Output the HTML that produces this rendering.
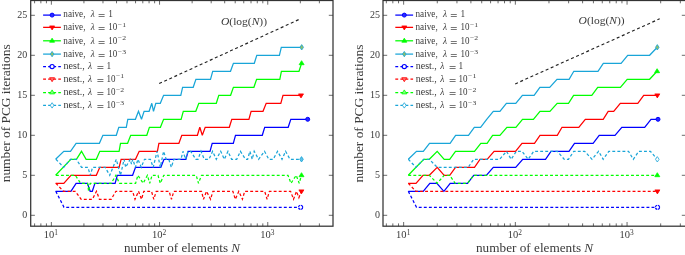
<!DOCTYPE html>
<html><head><meta charset="utf-8"><style>
html,body{margin:0;padding:0;background:#fff;}
body{width:685px;height:255px;overflow:hidden;}
svg{display:block;}
text{font-family:"Liberation Serif",serif;fill:#3a3a3a;}
svg{will-change:transform;}
</style></head><body>
<svg width="685" height="255" viewBox="0 0 685 255">
<path d="M34.60,226.2v-2.8M34.60,0.5v2.8M40.87,226.2v-2.8M40.87,0.5v2.8M46.41,226.2v-2.8M46.41,0.5v2.8M51.36,226.2v-4.2M51.36,0.5v4.2M83.93,226.2v-2.8M83.93,0.5v2.8M102.98,226.2v-2.8M102.98,0.5v2.8M116.50,226.2v-2.8M116.50,0.5v2.8M126.99,226.2v-2.8M126.99,0.5v2.8M135.56,226.2v-2.8M135.56,0.5v2.8M142.80,226.2v-2.8M142.80,0.5v2.8M149.07,226.2v-2.8M149.07,0.5v2.8M154.61,226.2v-2.8M154.61,0.5v2.8M159.56,226.2v-4.2M159.56,0.5v4.2M192.13,226.2v-2.8M192.13,0.5v2.8M211.18,226.2v-2.8M211.18,0.5v2.8M224.70,226.2v-2.8M224.70,0.5v2.8M235.19,226.2v-2.8M235.19,0.5v2.8M243.76,226.2v-2.8M243.76,0.5v2.8M251.00,226.2v-2.8M251.00,0.5v2.8M257.27,226.2v-2.8M257.27,0.5v2.8M262.81,226.2v-2.8M262.81,0.5v2.8M267.76,226.2v-4.2M267.76,0.5v4.2M300.33,226.2v-2.8M300.33,0.5v2.8M319.38,226.2v-2.8M319.38,0.5v2.8M30.7,215.30h4.2M333.0,215.30h-4.2M30.7,175.30h4.2M333.0,175.30h-4.2M30.7,135.30h4.2M333.0,135.30h-4.2M30.7,95.30h4.2M333.0,95.30h-4.2M30.7,55.30h4.2M333.0,55.30h-4.2M30.7,15.30h4.2M333.0,15.30h-4.2" stroke="#3a3a3a" stroke-width="0.75" fill="none"/>
<rect x="30.7" y="0.5" width="302.3" height="225.7" fill="none" stroke="#333" stroke-width="1.25"/>
<polyline points="55.60,191.30 70.90,191.30 76.10,183.30 87.40,183.30 90.20,191.30 92.30,191.30 94.90,183.30 115.10,183.30 117.30,175.30 132.60,175.30 135.50,167.30 160.80,167.30 164.00,159.30 185.90,159.30 188.10,151.30 210.00,151.30 212.20,143.30 233.30,143.30 235.50,135.30 262.30,135.30 264.70,127.30 288.20,127.30 290.80,119.30 307.70,119.30" fill="none" stroke="#0000ff" stroke-width="1.25" stroke-linejoin="miter" stroke-miterlimit="3"/>
<polyline points="55.60,183.30 63.80,183.30 70.90,175.30 96.30,175.30 99.80,167.30 119.10,167.30 121.10,159.30 135.50,159.30 139.20,151.30 157.40,151.30 158.90,143.30 178.90,143.30 181.80,135.30 197.40,135.30 199.80,127.30 202.30,135.30 205.20,127.30 229.30,127.30 231.80,119.30 248.90,119.30 251.10,111.30 263.00,111.30 266.20,103.30 280.80,103.30 283.00,95.30 301.00,95.30" fill="none" stroke="#ff0000" stroke-width="1.25" stroke-linejoin="miter" stroke-miterlimit="3"/>
<polyline points="55.60,175.30 70.80,159.30 76.40,159.30 81.50,151.30 86.10,159.30 96.30,159.30 99.80,151.30 119.10,151.30 120.50,143.30 127.60,143.30 130.70,135.30 146.80,135.30 149.40,127.30 160.40,127.30 163.60,119.30 181.10,119.30 183.30,111.30 195.80,111.30 198.80,103.30 216.30,103.30 218.80,95.30 230.60,95.30 233.40,87.30 253.90,87.30 256.60,79.30 279.80,79.30 281.40,71.30 299.00,71.30 301.60,63.30" fill="none" stroke="#00ff00" stroke-width="1.25" stroke-linejoin="miter" stroke-miterlimit="3"/>
<polyline points="55.60,159.30 63.80,151.30 70.50,151.30 76.10,143.30 99.40,143.30 102.90,135.30 116.30,135.30 118.80,127.30 126.30,127.30 127.80,119.30 135.40,119.30 138.50,111.30 141.50,119.30 144.10,111.30 149.10,111.30 151.80,103.30 153.50,111.30 155.80,103.30 160.30,103.30 163.60,95.30 180.80,95.30 182.60,87.30 193.20,87.30 195.90,79.30 210.50,79.30 212.70,71.30 230.50,71.30 233.40,63.30 254.30,63.30 256.80,55.30 279.40,55.30 281.30,47.30 301.70,47.30" fill="none" stroke="#19a5d8" stroke-width="1.25" stroke-linejoin="miter" stroke-miterlimit="3"/>
<polyline points="55.80,191.30 64.00,207.30 300.60,207.30" fill="none" stroke="#0000ff" stroke-width="1.25" stroke-linejoin="miter" stroke-miterlimit="3" stroke-dasharray="2.9 2.16"/>
<polyline points="55.90,183.30 63.50,191.30 75.30,191.30 81.20,199.30 92.40,199.30 96.50,191.30 99.40,199.30 111.20,199.30 115.90,191.30 132.60,191.30 135.00,199.30 138.50,191.30 141.50,199.30 143.80,191.30 151.50,191.30 153.80,199.30 156.20,191.30 169.10,191.30 171.50,199.30 173.80,191.30 201.50,191.30 203.50,199.30 206.50,191.30 210.60,199.30 212.90,191.30 232.90,191.30 235.30,199.30 238.80,191.30 242.40,199.30 244.70,191.30 264.70,191.30 267.10,199.30 269.40,191.30 290.60,191.30 293.50,199.30 296.50,191.30 298.90,197.70 301.40,191.30" fill="none" stroke="#ff0000" stroke-width="1.25" stroke-linejoin="miter" stroke-miterlimit="3" stroke-dasharray="2.9 2.16"/>
<polyline points="55.90,175.30 75.30,175.30 80.60,183.30 87.60,183.30 88.60,191.30 90.20,183.30 111.20,183.30 115.90,175.30 119.40,183.30 135.60,183.30 137.90,175.30 143.20,183.30 147.40,175.30 149.70,183.30 152.10,175.30 158.00,175.30 160.30,183.30 163.80,175.30 196.20,175.30 198.50,183.30 201.50,175.30 288.00,175.30 291.00,183.30 296.20,175.30 299.20,183.30 301.50,175.30" fill="none" stroke="#00ff00" stroke-width="1.25" stroke-linejoin="miter" stroke-miterlimit="3" stroke-dasharray="2.9 2.16"/>
<polyline points="55.90,159.30 63.70,167.30 70.50,159.30 76.30,159.30 81.50,167.30 87.90,167.30 90.30,175.30 92.60,167.30 105.10,167.30 109.70,175.30 116.30,159.30 120.50,175.30 124.10,159.30 125.70,167.30 130.20,159.30 131.50,164.10 132.80,159.30 135.40,167.30 138.00,159.30 141.20,167.30 144.50,159.30 150.40,159.30 153.20,167.30 157.10,151.30 160.30,167.30 163.60,151.30 166.20,159.30 168.80,159.30 171.30,167.30 173.90,159.30 181.00,159.30 183.00,151.30 185.60,159.30 188.00,151.30 190.70,151.30 195.80,159.30 198.00,159.30 201.00,151.30 204.30,159.30 209.00,159.30 212.60,151.30 216.30,159.30 220.70,151.30 224.30,159.30 228.00,151.30 231.60,159.30 236.70,159.30 240.40,151.30 245.50,159.30 247.60,159.30 249.90,151.30 252.20,159.30 254.20,151.30 258.60,159.30 264.50,151.30 268.80,159.30 273.20,159.30 277.60,151.30 282.00,159.30 285.60,151.30 290.00,159.30 301.50,159.30" fill="none" stroke="#19a5d8" stroke-width="1.25" stroke-linejoin="miter" stroke-miterlimit="3" stroke-dasharray="2.9 2.16"/>
<circle cx="307.70" cy="119.30" r="2.0" fill="#2a2aff" stroke="#0000ff" stroke-width="1"/>
<circle cx="300.60" cy="207.30" r="2.1" fill="white" stroke="#0000ff" stroke-width="1.2" stroke-dasharray="2.4 0.7"/>
<polygon points="298.50,93.90 303.50,93.90 301.00,97.90" fill="#ff0000" stroke="#ff0000" stroke-width="0.8"/>
<polygon points="298.90,189.90 303.90,189.90 301.40,193.90" fill="#ff0000" stroke="#ff0000" stroke-width="0.8"/>
<polygon points="299.10,64.70 304.10,64.70 301.60,60.70" fill="#00ff00" stroke="#00ff00" stroke-width="0.8"/>
<polygon points="299.00,176.70 304.00,176.70 301.50,172.70" fill="#00ff00" stroke="#00ff00" stroke-width="0.8"/>
<polygon points="301.70,44.60 303.50,47.30 301.70,50.00 299.90,47.30" fill="#8fbf6a" stroke="#19a5d8" stroke-width="0.8"/>
<polygon points="301.50,156.60 303.30,159.30 301.50,162.00 299.70,159.30" fill="#5fc0e6" stroke="#19a5d8" stroke-width="0.8"/>
<path d="M386.35,226.2v-2.8M386.35,0.5v2.8M392.83,226.2v-2.8M392.83,0.5v2.8M398.54,226.2v-2.8M398.54,0.5v2.8M403.65,226.2v-4.2M403.65,0.5v4.2M437.28,226.2v-2.8M437.28,0.5v2.8M456.94,226.2v-2.8M456.94,0.5v2.8M470.90,226.2v-2.8M470.90,0.5v2.8M481.72,226.2v-2.8M481.72,0.5v2.8M490.57,226.2v-2.8M490.57,0.5v2.8M498.05,226.2v-2.8M498.05,0.5v2.8M504.53,226.2v-2.8M504.53,0.5v2.8M510.24,226.2v-2.8M510.24,0.5v2.8M515.35,226.2v-4.2M515.35,0.5v4.2M548.98,226.2v-2.8M548.98,0.5v2.8M568.64,226.2v-2.8M568.64,0.5v2.8M582.60,226.2v-2.8M582.60,0.5v2.8M593.42,226.2v-2.8M593.42,0.5v2.8M602.27,226.2v-2.8M602.27,0.5v2.8M609.75,226.2v-2.8M609.75,0.5v2.8M616.23,226.2v-2.8M616.23,0.5v2.8M621.94,226.2v-2.8M621.94,0.5v2.8M627.05,226.2v-4.2M627.05,0.5v4.2M660.68,226.2v-2.8M660.68,0.5v2.8M680.34,226.2v-2.8M680.34,0.5v2.8M383.0,215.30h4.2M686.0,215.30h-4.2M383.0,175.30h4.2M686.0,175.30h-4.2M383.0,135.30h4.2M686.0,135.30h-4.2M383.0,95.30h4.2M686.0,95.30h-4.2M383.0,55.30h4.2M686.0,55.30h-4.2M383.0,15.30h4.2M686.0,15.30h-4.2" stroke="#3a3a3a" stroke-width="0.75" fill="none"/>
<rect x="383.0" y="0.5" width="303.0" height="225.7" fill="none" stroke="#333" stroke-width="1.25"/>
<polyline points="408.30,191.30 423.20,191.30 429.80,183.30 436.90,183.30 443.90,191.30 450.20,183.30 467.50,183.30 473.70,175.30 486.30,175.30 493.30,167.30 515.70,167.30 522.70,159.30 545.50,159.30 551.00,151.30 569.00,151.30 574.50,143.30 593.10,143.30 599.20,135.30 615.00,135.30 621.80,127.30 644.70,127.30 651.00,119.30 658.00,119.30" fill="none" stroke="#0000ff" stroke-width="1.25" stroke-linejoin="miter" stroke-miterlimit="3"/>
<polyline points="408.30,183.30 416.00,183.30 423.00,175.30 429.30,175.30 437.20,167.30 444.20,175.30 449.70,175.30 455.50,167.30 474.50,167.30 480.00,159.30 487.10,159.30 494.10,151.30 515.50,151.30 522.00,143.30 534.50,143.30 540.00,135.30 557.30,135.30 562.00,127.30 578.80,127.30 585.30,119.30 603.20,119.30 608.20,111.30 613.70,111.30 620.30,103.30 637.80,103.30 643.70,95.30 657.30,95.30" fill="none" stroke="#ff0000" stroke-width="1.25" stroke-linejoin="miter" stroke-miterlimit="3"/>
<polyline points="408.30,175.30 416.00,167.30 423.80,159.30 429.30,159.30 437.20,151.30 444.20,159.30 449.70,159.30 455.50,151.30 474.50,151.30 480.80,143.30 487.10,143.30 492.60,135.30 499.90,135.30 506.90,127.30 515.90,127.30 522.50,119.30 533.40,119.30 540.00,111.30 549.90,111.30 557.20,103.30 568.50,103.30 573.60,95.30 591.80,95.30 597.70,87.30 620.40,87.30 627.20,79.30 649.60,79.30 657.10,71.30" fill="none" stroke="#00ff00" stroke-width="1.25" stroke-linejoin="miter" stroke-miterlimit="3"/>
<polyline points="408.30,159.30 416.50,151.30 423.30,151.30 429.50,143.30 450.10,143.30 455.60,135.30 468.50,135.30 474.30,127.30 480.60,127.30 486.70,119.30 493.30,111.30 499.90,111.30 506.40,103.30 515.80,103.30 522.40,95.30 534.10,95.30 539.90,87.30 549.70,87.30 557.00,79.30 569.10,79.30 573.80,71.30 598.00,71.30 603.30,63.30 621.10,63.30 627.70,55.30 649.60,55.30 657.30,47.30" fill="none" stroke="#19a5d8" stroke-width="1.25" stroke-linejoin="miter" stroke-miterlimit="3"/>
<polyline points="408.30,191.30 416.50,207.30 657.50,207.30" fill="none" stroke="#0000ff" stroke-width="1.25" stroke-linejoin="miter" stroke-miterlimit="3" stroke-dasharray="2.9 2.16"/>
<polyline points="408.30,183.30 415.90,191.30 657.40,191.30" fill="none" stroke="#ff0000" stroke-width="1.25" stroke-linejoin="miter" stroke-miterlimit="3" stroke-dasharray="2.9 2.16"/>
<polyline points="408.30,175.30 429.30,175.30 437.20,183.30 444.20,175.30 449.70,175.30 455.20,183.30 467.50,183.30 473.70,175.30 657.30,175.30" fill="none" stroke="#00ff00" stroke-width="1.25" stroke-linejoin="miter" stroke-miterlimit="3" stroke-dasharray="2.9 2.16"/>
<polyline points="408.30,159.30 416.00,167.30 423.80,159.30 429.30,159.30 437.20,167.30 468.20,167.30 473.70,159.30 499.60,159.30 506.50,151.30 511.20,159.30 516.30,151.30 522.00,151.30 528.20,159.30 533.70,151.30 557.30,151.30 564.30,159.30 568.50,159.30 573.80,151.30 584.70,151.30 592.00,159.30 598.60,151.30 603.20,159.30 608.80,151.30 628.50,151.30 633.30,159.30 638.70,151.30 650.40,151.30 657.30,159.30" fill="none" stroke="#19a5d8" stroke-width="1.25" stroke-linejoin="miter" stroke-miterlimit="3" stroke-dasharray="2.9 2.16"/>
<circle cx="658.00" cy="119.30" r="2.0" fill="#2a2aff" stroke="#0000ff" stroke-width="1"/>
<circle cx="657.50" cy="207.30" r="2.1" fill="white" stroke="#0000ff" stroke-width="1.2" stroke-dasharray="2.4 0.7"/>
<polygon points="654.80,93.90 659.80,93.90 657.30,97.90" fill="#ff0000" stroke="#ff0000" stroke-width="0.8"/>
<polygon points="654.90,189.90 659.90,189.90 657.40,193.90" fill="#ff0000" stroke="#ff0000" stroke-width="0.8"/>
<polygon points="654.60,72.70 659.60,72.70 657.10,68.70" fill="#00ff00" stroke="#00ff00" stroke-width="0.8"/>
<polygon points="654.80,176.70 659.80,176.70 657.30,172.70" fill="#00ff00" stroke="#00ff00" stroke-width="0.8"/>
<polygon points="657.30,44.60 659.10,47.30 657.30,50.00 655.50,47.30" fill="#8fbf6a" stroke="#19a5d8" stroke-width="0.8"/>
<polygon points="657.30,156.60 659.10,159.30 657.30,162.00 655.50,159.30" fill="white" stroke="#19a5d8" stroke-width="0.8"/>
<line x1="43.1" y1="15.1" x2="60.9" y2="15.1" stroke="#0000ff" stroke-width="1.25"/>
<circle cx="52.10" cy="15.10" r="2.0" fill="#2a2aff" stroke="#0000ff" stroke-width="1"/>
<text x="63.30" y="16.70" font-size="9.3" textLength="22.2" lengthAdjust="spacingAndGlyphs">naive,</text>
<text x="90.80" y="16.70" font-size="9.3" font-style="italic">λ</text>
<path d="M98.60,14.50h6.0M98.60,16.50h6.0" stroke="#555" stroke-width="0.8"/>
<text x="108.30" y="16.70" font-size="9.3">1</text>
<line x1="43.1" y1="27.35" x2="60.9" y2="27.35" stroke="#ff0000" stroke-width="1.25"/>
<polygon points="49.60,25.95 54.60,25.95 52.10,29.95" fill="#ff0000" stroke="#ff0000" stroke-width="0.8"/>
<text x="63.30" y="30.40" font-size="9.3" textLength="22.2" lengthAdjust="spacingAndGlyphs">naive,</text>
<text x="90.80" y="30.40" font-size="9.3" font-style="italic">λ</text>
<path d="M98.60,27.50h6.0M98.60,29.50h6.0" stroke="#555" stroke-width="0.8"/>
<text x="108.30" y="30.40" font-size="9.3" textLength="9.0" lengthAdjust="spacingAndGlyphs">10</text>
<text x="117.80" y="27.00" font-size="6.3" textLength="8.2" lengthAdjust="spacingAndGlyphs">−1</text>
<line x1="43.1" y1="40.8" x2="60.9" y2="40.8" stroke="#00ff00" stroke-width="1.25"/>
<polygon points="49.60,42.20 54.60,42.20 52.10,38.20" fill="#00ff00" stroke="#00ff00" stroke-width="0.8"/>
<text x="63.30" y="43.80" font-size="9.3" textLength="22.2" lengthAdjust="spacingAndGlyphs">naive,</text>
<text x="90.80" y="43.80" font-size="9.3" font-style="italic">λ</text>
<path d="M98.60,41.50h6.0M98.60,43.50h6.0" stroke="#555" stroke-width="0.8"/>
<text x="108.30" y="43.80" font-size="9.3" textLength="9.0" lengthAdjust="spacingAndGlyphs">10</text>
<text x="117.80" y="40.40" font-size="6.3" textLength="8.2" lengthAdjust="spacingAndGlyphs">−2</text>
<line x1="43.1" y1="54.1" x2="60.9" y2="54.1" stroke="#19a5d8" stroke-width="1.25"/>
<polygon points="52.10,51.40 53.90,54.10 52.10,56.80 50.30,54.10" fill="#8fbf6a" stroke="#19a5d8" stroke-width="0.8"/>
<text x="63.30" y="57.10" font-size="9.3" textLength="22.2" lengthAdjust="spacingAndGlyphs">naive,</text>
<text x="90.80" y="57.10" font-size="9.3" font-style="italic">λ</text>
<path d="M98.60,54.50h6.0M98.60,56.50h6.0" stroke="#555" stroke-width="0.8"/>
<text x="108.30" y="57.10" font-size="9.3" textLength="9.0" lengthAdjust="spacingAndGlyphs">10</text>
<text x="117.80" y="53.70" font-size="6.3" textLength="8.2" lengthAdjust="spacingAndGlyphs">−3</text>
<line x1="43.1" y1="66.6" x2="60.9" y2="66.6" stroke="#0000ff" stroke-width="1.25" stroke-dasharray="2.9 2.16"/>
<circle cx="52.10" cy="66.60" r="2.1" fill="white" stroke="#0000ff" stroke-width="1.2"/>
<text x="63.50" y="68.60" font-size="9.3" textLength="21.2" lengthAdjust="spacingAndGlyphs">nest.,</text>
<text x="88.00" y="68.60" font-size="9.3" font-style="italic">λ</text>
<path d="M97.40,66.50h6.0M97.40,68.50h6.0" stroke="#555" stroke-width="0.8"/>
<text x="106.40" y="68.60" font-size="9.3">1</text>
<line x1="43.1" y1="79.1" x2="60.9" y2="79.1" stroke="#ff0000" stroke-width="1.25" stroke-dasharray="2.9 2.16"/>
<polygon points="49.60,77.70 54.60,77.70 52.10,81.70" fill="#ff7070" stroke="#ff0000" stroke-width="0.8"/>
<text x="63.50" y="81.80" font-size="9.3" textLength="21.2" lengthAdjust="spacingAndGlyphs">nest.,</text>
<text x="88.00" y="81.80" font-size="9.3" font-style="italic">λ</text>
<path d="M97.40,79.50h6.0M97.40,81.50h6.0" stroke="#555" stroke-width="0.8"/>
<text x="106.40" y="81.80" font-size="9.3" textLength="9.0" lengthAdjust="spacingAndGlyphs">10</text>
<text x="115.90" y="78.40" font-size="6.3" textLength="8.2" lengthAdjust="spacingAndGlyphs">−1</text>
<line x1="43.1" y1="92.5" x2="60.9" y2="92.5" stroke="#00ff00" stroke-width="1.25" stroke-dasharray="2.9 2.16"/>
<polygon points="49.60,93.90 54.60,93.90 52.10,89.90" fill="#80ff80" stroke="#00ff00" stroke-width="0.8"/>
<text x="63.50" y="95.20" font-size="9.3" textLength="21.2" lengthAdjust="spacingAndGlyphs">nest.,</text>
<text x="88.00" y="95.20" font-size="9.3" font-style="italic">λ</text>
<path d="M97.40,92.50h6.0M97.40,94.50h6.0" stroke="#555" stroke-width="0.8"/>
<text x="106.40" y="95.20" font-size="9.3" textLength="9.0" lengthAdjust="spacingAndGlyphs">10</text>
<text x="115.90" y="91.80" font-size="6.3" textLength="8.2" lengthAdjust="spacingAndGlyphs">−2</text>
<line x1="43.1" y1="105.4" x2="60.9" y2="105.4" stroke="#19a5d8" stroke-width="1.25" stroke-dasharray="2.9 2.16"/>
<polygon points="52.10,102.70 53.90,105.40 52.10,108.10 50.30,105.40" fill="white" stroke="#19a5d8" stroke-width="0.8"/>
<text x="63.50" y="108.20" font-size="9.3" textLength="21.2" lengthAdjust="spacingAndGlyphs">nest.,</text>
<text x="88.00" y="108.20" font-size="9.3" font-style="italic">λ</text>
<path d="M97.40,105.50h6.0M97.40,107.50h6.0" stroke="#555" stroke-width="0.8"/>
<text x="106.40" y="108.20" font-size="9.3" textLength="9.0" lengthAdjust="spacingAndGlyphs">10</text>
<text x="115.90" y="104.80" font-size="6.3" textLength="8.2" lengthAdjust="spacingAndGlyphs">−3</text>
<line x1="395.3" y1="15.1" x2="413.09999999999997" y2="15.1" stroke="#0000ff" stroke-width="1.25"/>
<circle cx="404.30" cy="15.10" r="2.0" fill="#2a2aff" stroke="#0000ff" stroke-width="1"/>
<text x="415.50" y="16.70" font-size="9.3" textLength="22.2" lengthAdjust="spacingAndGlyphs">naive,</text>
<text x="443.00" y="16.70" font-size="9.3" font-style="italic">λ</text>
<path d="M450.80,14.50h6.0M450.80,16.50h6.0" stroke="#555" stroke-width="0.8"/>
<text x="460.50" y="16.70" font-size="9.3">1</text>
<line x1="395.3" y1="27.35" x2="413.09999999999997" y2="27.35" stroke="#ff0000" stroke-width="1.25"/>
<polygon points="401.80,25.95 406.80,25.95 404.30,29.95" fill="#ff0000" stroke="#ff0000" stroke-width="0.8"/>
<text x="415.50" y="30.40" font-size="9.3" textLength="22.2" lengthAdjust="spacingAndGlyphs">naive,</text>
<text x="443.00" y="30.40" font-size="9.3" font-style="italic">λ</text>
<path d="M450.80,27.50h6.0M450.80,29.50h6.0" stroke="#555" stroke-width="0.8"/>
<text x="460.50" y="30.40" font-size="9.3" textLength="9.0" lengthAdjust="spacingAndGlyphs">10</text>
<text x="470.00" y="27.00" font-size="6.3" textLength="8.2" lengthAdjust="spacingAndGlyphs">−1</text>
<line x1="395.3" y1="40.8" x2="413.09999999999997" y2="40.8" stroke="#00ff00" stroke-width="1.25"/>
<polygon points="401.80,42.20 406.80,42.20 404.30,38.20" fill="#00ff00" stroke="#00ff00" stroke-width="0.8"/>
<text x="415.50" y="43.80" font-size="9.3" textLength="22.2" lengthAdjust="spacingAndGlyphs">naive,</text>
<text x="443.00" y="43.80" font-size="9.3" font-style="italic">λ</text>
<path d="M450.80,41.50h6.0M450.80,43.50h6.0" stroke="#555" stroke-width="0.8"/>
<text x="460.50" y="43.80" font-size="9.3" textLength="9.0" lengthAdjust="spacingAndGlyphs">10</text>
<text x="470.00" y="40.40" font-size="6.3" textLength="8.2" lengthAdjust="spacingAndGlyphs">−2</text>
<line x1="395.3" y1="54.1" x2="413.09999999999997" y2="54.1" stroke="#19a5d8" stroke-width="1.25"/>
<polygon points="404.30,51.40 406.10,54.10 404.30,56.80 402.50,54.10" fill="#8fbf6a" stroke="#19a5d8" stroke-width="0.8"/>
<text x="415.50" y="57.10" font-size="9.3" textLength="22.2" lengthAdjust="spacingAndGlyphs">naive,</text>
<text x="443.00" y="57.10" font-size="9.3" font-style="italic">λ</text>
<path d="M450.80,54.50h6.0M450.80,56.50h6.0" stroke="#555" stroke-width="0.8"/>
<text x="460.50" y="57.10" font-size="9.3" textLength="9.0" lengthAdjust="spacingAndGlyphs">10</text>
<text x="470.00" y="53.70" font-size="6.3" textLength="8.2" lengthAdjust="spacingAndGlyphs">−3</text>
<line x1="395.3" y1="66.6" x2="413.09999999999997" y2="66.6" stroke="#0000ff" stroke-width="1.25" stroke-dasharray="2.9 2.16"/>
<circle cx="404.30" cy="66.60" r="2.1" fill="white" stroke="#0000ff" stroke-width="1.2"/>
<text x="415.70" y="68.60" font-size="9.3" textLength="21.2" lengthAdjust="spacingAndGlyphs">nest.,</text>
<text x="440.20" y="68.60" font-size="9.3" font-style="italic">λ</text>
<path d="M449.60,66.50h6.0M449.60,68.50h6.0" stroke="#555" stroke-width="0.8"/>
<text x="458.60" y="68.60" font-size="9.3">1</text>
<line x1="395.3" y1="79.1" x2="413.09999999999997" y2="79.1" stroke="#ff0000" stroke-width="1.25" stroke-dasharray="2.9 2.16"/>
<polygon points="401.80,77.70 406.80,77.70 404.30,81.70" fill="#ff7070" stroke="#ff0000" stroke-width="0.8"/>
<text x="415.70" y="81.80" font-size="9.3" textLength="21.2" lengthAdjust="spacingAndGlyphs">nest.,</text>
<text x="440.20" y="81.80" font-size="9.3" font-style="italic">λ</text>
<path d="M449.60,79.50h6.0M449.60,81.50h6.0" stroke="#555" stroke-width="0.8"/>
<text x="458.60" y="81.80" font-size="9.3" textLength="9.0" lengthAdjust="spacingAndGlyphs">10</text>
<text x="468.10" y="78.40" font-size="6.3" textLength="8.2" lengthAdjust="spacingAndGlyphs">−1</text>
<line x1="395.3" y1="92.5" x2="413.09999999999997" y2="92.5" stroke="#00ff00" stroke-width="1.25" stroke-dasharray="2.9 2.16"/>
<polygon points="401.80,93.90 406.80,93.90 404.30,89.90" fill="#80ff80" stroke="#00ff00" stroke-width="0.8"/>
<text x="415.70" y="95.20" font-size="9.3" textLength="21.2" lengthAdjust="spacingAndGlyphs">nest.,</text>
<text x="440.20" y="95.20" font-size="9.3" font-style="italic">λ</text>
<path d="M449.60,92.50h6.0M449.60,94.50h6.0" stroke="#555" stroke-width="0.8"/>
<text x="458.60" y="95.20" font-size="9.3" textLength="9.0" lengthAdjust="spacingAndGlyphs">10</text>
<text x="468.10" y="91.80" font-size="6.3" textLength="8.2" lengthAdjust="spacingAndGlyphs">−2</text>
<line x1="395.3" y1="105.4" x2="413.09999999999997" y2="105.4" stroke="#19a5d8" stroke-width="1.25" stroke-dasharray="2.9 2.16"/>
<polygon points="404.30,102.70 406.10,105.40 404.30,108.10 402.50,105.40" fill="white" stroke="#19a5d8" stroke-width="0.8"/>
<text x="415.70" y="108.20" font-size="9.3" textLength="21.2" lengthAdjust="spacingAndGlyphs">nest.,</text>
<text x="440.20" y="108.20" font-size="9.3" font-style="italic">λ</text>
<path d="M449.60,105.50h6.0M449.60,107.50h6.0" stroke="#555" stroke-width="0.8"/>
<text x="458.60" y="108.20" font-size="9.3" textLength="9.0" lengthAdjust="spacingAndGlyphs">10</text>
<text x="468.10" y="104.80" font-size="6.3" textLength="8.2" lengthAdjust="spacingAndGlyphs">−3</text>
<text x="27.30" y="218.20" font-size="10" text-anchor="end">0</text>
<text x="27.30" y="178.20" font-size="10" text-anchor="end">5</text>
<text x="27.30" y="138.20" font-size="10" text-anchor="end">10</text>
<text x="27.30" y="98.20" font-size="10" text-anchor="end">15</text>
<text x="27.30" y="58.20" font-size="10" text-anchor="end">20</text>
<text x="27.30" y="18.20" font-size="10" text-anchor="end">25</text>
<text x="43.76" y="238.40" font-size="10" textLength="10.5" lengthAdjust="spacingAndGlyphs">10</text>
<text x="54.36" y="235.00" font-size="7.4">1</text>
<text x="151.96" y="238.40" font-size="10" textLength="10.5" lengthAdjust="spacingAndGlyphs">10</text>
<text x="162.56" y="235.00" font-size="7.4">2</text>
<text x="260.16" y="238.40" font-size="10" textLength="10.5" lengthAdjust="spacingAndGlyphs">10</text>
<text x="270.76" y="235.00" font-size="7.4">3</text>
<text x="380.00" y="218.20" font-size="10" text-anchor="end">0</text>
<text x="380.00" y="178.20" font-size="10" text-anchor="end">5</text>
<text x="380.00" y="138.20" font-size="10" text-anchor="end">10</text>
<text x="380.00" y="98.20" font-size="10" text-anchor="end">15</text>
<text x="380.00" y="58.20" font-size="10" text-anchor="end">20</text>
<text x="380.00" y="18.20" font-size="10" text-anchor="end">25</text>
<text x="396.05" y="238.40" font-size="10" textLength="10.5" lengthAdjust="spacingAndGlyphs">10</text>
<text x="406.65" y="235.00" font-size="7.4">1</text>
<text x="507.75" y="238.40" font-size="10" textLength="10.5" lengthAdjust="spacingAndGlyphs">10</text>
<text x="518.35" y="235.00" font-size="7.4">2</text>
<text x="619.45" y="238.40" font-size="10" textLength="10.5" lengthAdjust="spacingAndGlyphs">10</text>
<text x="630.05" y="235.00" font-size="7.4">3</text>
<line x1="159.2" y1="83.6" x2="299.8" y2="19.1" stroke="#222" stroke-width="1.15" stroke-dasharray="3.0 2.57"/>
<line x1="515.2" y1="83.9" x2="659.7" y2="18.8" stroke="#222" stroke-width="1.15" stroke-dasharray="3.0 2.57"/>
<text x="221.0" y="24.8" font-size="10.4" textLength="46" lengthAdjust="spacingAndGlyphs"><tspan font-style="italic">O</tspan>(log(<tspan font-style="italic">N</tspan>))</text>
<text x="578.6" y="24.4" font-size="10.4" textLength="46" lengthAdjust="spacingAndGlyphs"><tspan font-style="italic">O</tspan>(log(<tspan font-style="italic">N</tspan>))</text>
<text x="124.0" y="251.5" font-size="12" textLength="116" lengthAdjust="spacingAndGlyphs">number of elements <tspan font-style="italic">N</tspan></text>
<text x="476.0" y="251.5" font-size="12" textLength="117.2" lengthAdjust="spacingAndGlyphs">number of elements <tspan font-style="italic">N</tspan></text>
<text transform="translate(10.0,182.3) rotate(-90)" font-size="12" textLength="138" lengthAdjust="spacingAndGlyphs">number of PCG iterations</text>
<text transform="translate(362.5,182.6) rotate(-90)" font-size="12" textLength="138" lengthAdjust="spacingAndGlyphs">number of PCG iterations</text>
</svg>
</body></html>
